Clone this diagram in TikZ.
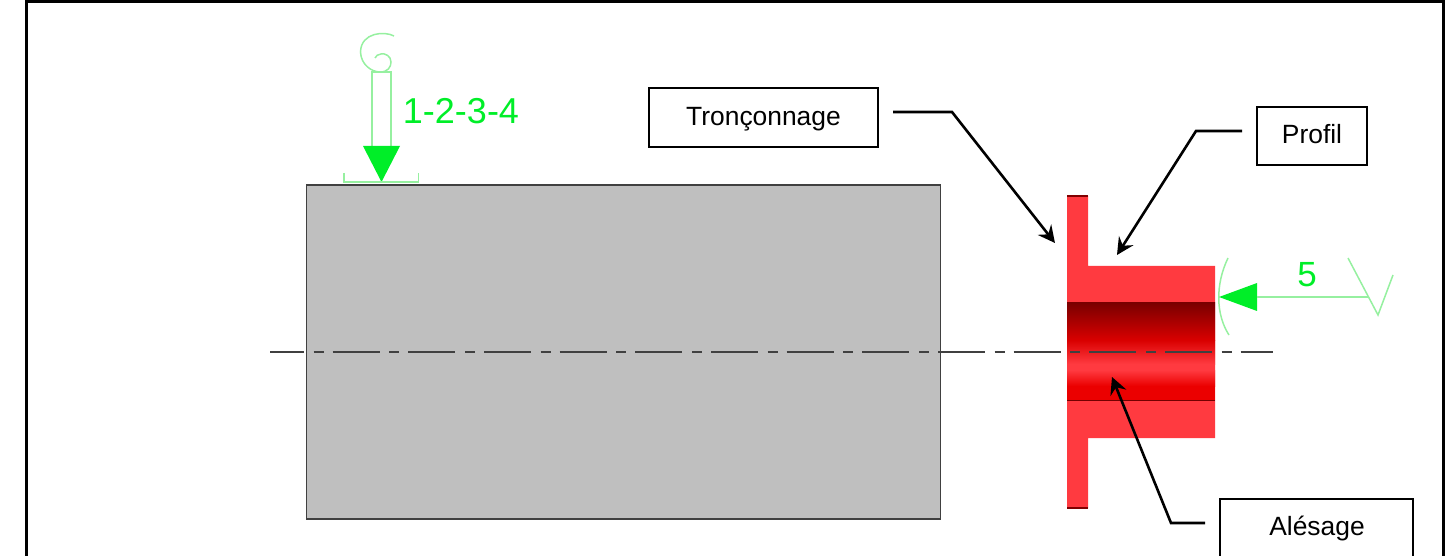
\documentclass[tikz,border=0pt]{standalone}
\usepackage{fontspec}
\setmainfont{Liberation Sans}
\usetikzlibrary{arrows.meta}
\definecolor{partred}{RGB}{255,58,64}
\definecolor{cadgreen}{RGB}{0,238,40}
\definecolor{thin}{RGB}{150,240,160}
\tikzset{x=1pt,y=-1pt,
 label box/.style={draw=black,line width=2.4pt,fill=white,inner sep=0pt,anchor=center},
 label text/.style={font=\fontsize{26.4}{28}\selectfont,inner sep=0pt},
 leader/.style={draw=black,line width=2.6pt,-{Stealth[length=17pt,width=17pt,inset=6pt]}},
 thin green/.style={draw=thin,line width=1.5pt},
 axis line/.style={draw=black!75,line width=1.6pt,dash pattern=on 47pt off 9.67pt on 10pt off 9pt,dash phase=13pt},
 green text/.style={text=cadgreen,inner sep=0pt}}
\begin{document}
\begin{tikzpicture}
\useasboundingbox (0,0) rectangle (1452,556);
% frame
\draw[black,line width=3pt] (26,560) -- (26,1.5) -- (1443,1.5) -- (1443,560);
% stock
\node[draw=black!75,line width=1.4pt,fill=black!25,minimum width=634pt,minimum height=334pt,inner sep=0pt] (stock) at (623.5,352) {};
% part
\fill[partred] (1067,196) -- (1088,196) -- (1088,266) -- (1215,266) -- (1215,438) -- (1088,438) -- (1088,508) -- (1067,508) -- cycle;
\draw[red!50!black,line width=1.4pt] (1067,196) -- (1088,196) (1067,508) -- (1088,508);
\shade[top color=red!48!black,bottom color=red!85!black] (1067,303) rectangle (1215,340);
\shade[top color=red!85!black,bottom color=partred] (1067,340) rectangle (1215,364);
\fill[partred] (1067,364) rectangle (1215,370);
\shade[top color=partred,bottom color=red!92!black] (1067,370) rectangle (1215,386);
\fill[red!92!black] (1067,386) rectangle (1215,400);
\draw[red!45!black,line width=1.4pt] (1067,400.5) -- (1215,400.5);
% axis
\coordinate (axisL) at (270,352);
\coordinate (axisR) at (1273,352);
\draw[axis line] (axisL) -- (axisR);
% green symbol 1-2-3-4
\draw[thin green] (372,146) -- (372,72) -- (391,72) -- (391,146);
\draw[thin green] (394,36) .. controls (385,31) and (361,32) .. (360.5,52) .. controls (361,65) and (372,72) .. (380,72) .. controls (388,72) and (391,67) .. (391,62) .. controls (391,56) and (385,53) .. (381,54) .. controls (378,54) and (376,56) .. (375,58);
\fill[cadgreen] (363,146) -- (400,146) -- (381.5,182) -- cycle;
\draw[thin green] (344,173) -- (344,182) -- (418.5,182) -- (418.5,173);
\node[green text,font=\fontsize{36}{38}\selectfont] (t1234) at (461,111) {1-2-3-4};
% green symbol 5
\coordinate (symend) at (1368,297);
\draw[thin green] (1228,258) .. controls (1215,285) and (1216,315) .. (1229,335);
\fill[cadgreen] (1219,297) -- (1257,283) -- (1257,311) -- cycle;
\draw[thin green] (1257,297) -- (symend);
\draw[thin green] (1348,258) -- (1378,315) -- (1393,275);
\node[green text,font=\fontsize{35}{37}\selectfont] (t5) at (1307,275) {5};
% label boxes
\node[label box,minimum width=229pt,minimum height=59pt] (tron) at (763.5,117.5) {};
\node[label text] (trontxt) at (763.5,119.5) {Tronçonnage};
\node[label box,minimum width=110pt,minimum height=58pt] (prof) at (1312,136) {};
\node[label text] (proftxt) at (1312,134) {Profil};
\node[label box,minimum width=193pt,minimum height=60pt] (ales) at (1316.5,529) {};
\node[label text] (alestxt) at (1317,529) {Alésage};
% leaders
\coordinate (tr1) at (893,112);
\coordinate (tr2) at (952,112);
\coordinate (tr3) at (1055,243);
\draw[leader] (tr1) -- (tr2) -- (tr3);
\coordinate (pr1) at (1242,131);
\coordinate (pr2) at (1196,131);
\coordinate (pr3) at (1117,255);
\draw[leader] (pr1) -- (pr2) -- (pr3);
\coordinate (al1) at (1205,523);
\coordinate (al2) at (1171,523);
\coordinate (al3) at (1112,377);
\draw[leader] (al1) -- (al2) -- (al3);
\end{tikzpicture}
\end{document}
